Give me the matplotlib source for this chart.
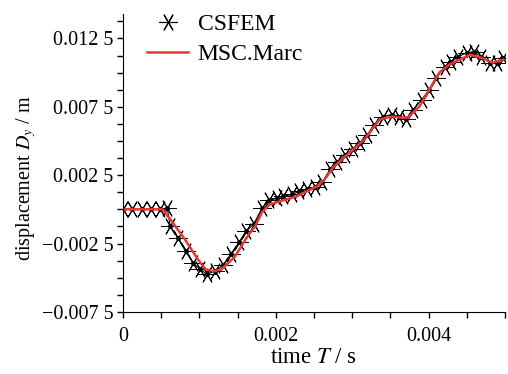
import matplotlib
matplotlib.use('Agg')
import matplotlib.pyplot as plt
from matplotlib.lines import Line2D
from matplotlib.ticker import FixedLocator, MultipleLocator

plt.rcParams['font.family'] = ['Liberation Serif', 'DejaVu Serif']
plt.rcParams['mathtext.fontset'] = 'stix'

# CSFEM data (time s, displacement m)
t_csfem = [0, 0.00012, 0.00025, 0.00037, 0.00048, 0.00058, 0.00062, 0.00072, 0.00082,
           0.00092, 0.00101, 0.00110, 0.00120, 0.00131, 0.00141, 0.00152, 0.00161, 0.00171,
           0.00182, 0.00191, 0.00201, 0.00210, 0.00221, 0.00231, 0.00241, 0.00251, 0.00261,
           0.00271, 0.00280, 0.00290, 0.00301, 0.00310, 0.00320, 0.00329, 0.00340, 0.00352,
           0.00361, 0.00371, 0.00380, 0.00391, 0.00401, 0.00410, 0.00421, 0.00430, 0.00439,
           0.00450, 0.00459, 0.00469, 0.00480, 0.00489, 0.00498]
d_csfem = [0, 0, 0, 0, 0, 0.0001, -0.00124, -0.00212, -0.00307,
           -0.00394, -0.00438, -0.00474, -0.00453, -0.00409, -0.00328, -0.00241, -0.00161, -0.00109,
           0.00007, 0.00066, 0.00080, 0.00095, 0.00109, 0.00131, 0.00146, 0.00161, 0.00197,
           0.00292, 0.00343, 0.00394, 0.00438, 0.00489, 0.00547, 0.00620, 0.00679, 0.00693,
           0.00679, 0.00664, 0.00730, 0.00803, 0.00876, 0.00964, 0.01044, 0.01080, 0.01117,
           0.01146, 0.01153, 0.01117, 0.01073, 0.01073, 0.01109]

# MSC.Marc data
t_marc = [0, 0.00052, 0.00064, 0.00081, 0.00098, 0.00108, 0.00119, 0.00129, 0.00146,
          0.00163, 0.00173, 0.00182, 0.00192, 0.00210, 0.00227, 0.00254, 0.00264, 0.00275,
          0.00297, 0.00316, 0.00336, 0.00352, 0.00362, 0.00373, 0.00388, 0.00401, 0.00414,
          0.00427, 0.00454, 0.00469, 0.00484, 0.00498]
d_marc = [0, 0, -0.00088, -0.00219, -0.00365, -0.00438, -0.00453, -0.00438, -0.00350,
          -0.00197, -0.00124, -0.00022, 0.00036, 0.00066, 0.00095, 0.00168, 0.00219, 0.00307,
          0.00416, 0.00511, 0.00657, 0.00679, 0.00672, 0.00672, 0.00752, 0.00876, 0.01000,
          0.01058, 0.01131, 0.01109, 0.01073, 0.01095]

y_ticks = [-0.0075, -0.0025, 0.0025, 0.0075, 0.0125]
y_labels = ['\u22120.007 5', '\u22120.002 5', '0.002 5', '0.007 5', '0.012 5']
x_ticks = [0, 0.002, 0.004]
x_labels = ['0', '0.002', '0.004']

star = (6, 2, 90)
red = '#e83838'

fig = plt.figure(figsize=(5.08, 3.74), dpi=100)
ax = fig.add_axes([0.242, 0.166, 0.752, 0.797])

ax.plot(t_csfem, d_csfem, color='black', lw=0.8, marker=star, markersize=13,
        markeredgewidth=0.7)
ax.plot(t_csfem, d_csfem, color='black', lw=0, marker='o', markersize=2.5)
ax.plot(t_marc, d_marc, color=red, lw=1.8)

ax.set_xlim(0, 0.005)
ax.set_ylim(-0.0075, 0.0143)
ax.yaxis.set_major_locator(FixedLocator(y_ticks))
ax.set_yticklabels(y_labels)
ax.yaxis.set_minor_locator(MultipleLocator(0.00125))
ax.xaxis.set_major_locator(FixedLocator(x_ticks))
ax.set_xticklabels(x_labels)
ax.xaxis.set_minor_locator(MultipleLocator(0.0005))
ax.tick_params(which='both', direction='out', length=4, width=1, labelsize=14.5)
ax.tick_params(axis='x', pad=7)
ax.tick_params(axis='y', pad=3)

for s in ['top', 'right']:
    ax.spines[s].set_visible(False)

ax.set_xlabel('time $T$ / s', fontsize=16.5)
ax.xaxis.set_label_coords(0.5, -0.118)
ax.set_ylabel('displacement $D_y$ / m', fontsize=14.5)
ax.yaxis.set_label_coords(-0.222, 0.45)

handles = [Line2D([], [], color='black', lw=0, marker=star, markersize=13, markeredgewidth=0.8),
           Line2D([], [], color=red, lw=1.8)]
ax.legend(handles, ['CSFEM', 'MSC.Marc'], loc='upper left', bbox_to_anchor=(0.063, 1.0),
          frameon=False, fontsize=17, handlelength=1.75, handletextpad=0.4,
          labelspacing=0.35, borderpad=0, borderaxespad=0)

fig.savefig('out.png', dpi=100)
